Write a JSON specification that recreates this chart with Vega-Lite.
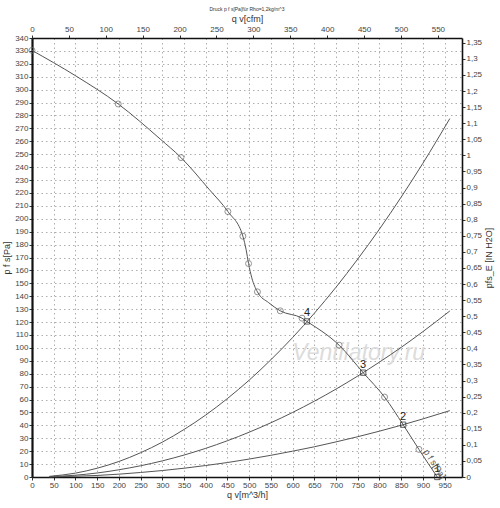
{
  "$schema": "https://vega.github.io/schema/vega-lite/v6.json",
  "width": 430,
  "height": 439,
  "autosize": {"type": "none"},
  "padding": {"left": 32, "top": 38, "right": 38, "bottom": 31},
  "title": {"text": "Druck p f s[Pa]für Rho=1,2kg/m^3", "fontSize": 5, "fontWeight": "normal", "color": "#333", "anchor": "middle", "offset": 2, "font": "Liberation Sans"},
  "config": {
    "locale": {"number": {"decimal": ",", "thousands": ".", "grouping": [3], "currency": ["", ""]}},
    "view": {"stroke": null},
    "axis": {"labelFont": "Liberation Sans", "titleFont": "Liberation Sans", "labelFontSize": 8, "titleFontSize": 9, "titleFontWeight": "normal", "labelColor": "#444", "titleColor": "#333", "domainColor": "#111", "domainWidth": 1.6, "tickColor": "#333", "tickSize": 3, "labelFlush": false, "labelOverlap": false}
  },
  "datasets": {
    "main": [
      {"q": 0, "p": 330.4}, {"q": 100, "p": 310.8}, {"q": 198.5, "p": 288.9}, {"q": 295, "p": 261.8},
      {"q": 343, "p": 247.4}, {"q": 408.5, "p": 222.5}, {"q": 451, "p": 205.6}, {"q": 485.5, "p": 186.5},
      {"q": 493, "p": 176}, {"q": 498.6, "p": 165.3}, {"q": 506, "p": 154.3}, {"q": 519, "p": 143.4},
      {"q": 545, "p": 135}, {"q": 571.6, "p": 128.7}, {"q": 621.7, "p": 123}, {"q": 633, "p": 120.5},
      {"q": 707, "p": 102.1}, {"q": 762.5, "p": 80.8}, {"q": 811.7, "p": 61.9}, {"q": 854.5, "p": 40.5},
      {"q": 890.8, "p": 21.4}, {"q": 933, "p": 0}
    ],
    "circles": [
      {"q": 0, "p": 330.4}, {"q": 198.5, "p": 288.9}, {"q": 343, "p": 247.4}, {"q": 451, "p": 205.6},
      {"q": 485.5, "p": 186.5}, {"q": 498.6, "p": 165.3}, {"q": 519, "p": 143.4}, {"q": 571.6, "p": 128.7},
      {"q": 621.7, "p": 123}, {"q": 707, "p": 102.1}, {"q": 811.7, "p": 61.9}, {"q": 890.8, "p": 21.4}
    ],
    "ops": [
      {"q": 633, "p": 120.5, "label": "4"}, {"q": 762.5, "p": 80.8, "label": "3"},
      {"q": 854.5, "p": 40.5, "label": "2"}, {"q": 933, "p": 0, "label": "1"}
    ],
    "system": [
      {"curve": "A", "q": 40, "p": 0.5}, {"curve": "A", "q": 100, "p": 3}, {"curve": "A", "q": 150, "p": 6.8}, {"curve": "A", "q": 200, "p": 12},
      {"curve": "A", "q": 250, "p": 18.8}, {"curve": "A", "q": 300, "p": 27}, {"curve": "A", "q": 350, "p": 36.8}, {"curve": "A", "q": 400, "p": 48},
      {"curve": "A", "q": 450, "p": 60.8}, {"curve": "A", "q": 500, "p": 75}, {"curve": "A", "q": 550, "p": 90.8}, {"curve": "A", "q": 600, "p": 108},
      {"curve": "A", "q": 650, "p": 126.8}, {"curve": "A", "q": 700, "p": 147}, {"curve": "A", "q": 750, "p": 168.8}, {"curve": "A", "q": 800, "p": 192},
      {"curve": "A", "q": 850, "p": 216.8}, {"curve": "A", "q": 900, "p": 243}, {"curve": "A", "q": 962, "p": 277.6},
      {"curve": "B", "q": 40, "p": 0.2}, {"curve": "B", "q": 100, "p": 1.4}, {"curve": "B", "q": 150, "p": 3.1}, {"curve": "B", "q": 200, "p": 5.6},
      {"curve": "B", "q": 250, "p": 8.7}, {"curve": "B", "q": 300, "p": 12.5}, {"curve": "B", "q": 350, "p": 17}, {"curve": "B", "q": 400, "p": 22.2},
      {"curve": "B", "q": 450, "p": 28.1}, {"curve": "B", "q": 500, "p": 34.7}, {"curve": "B", "q": 550, "p": 42}, {"curve": "B", "q": 600, "p": 50},
      {"curve": "B", "q": 650, "p": 58.7}, {"curve": "B", "q": 700, "p": 68.1}, {"curve": "B", "q": 750, "p": 78.2}, {"curve": "B", "q": 800, "p": 89},
      {"curve": "B", "q": 850, "p": 100.4}, {"curve": "B", "q": 900, "p": 112.6}, {"curve": "B", "q": 962, "p": 128.6},
      {"curve": "C", "q": 40, "p": 0.1}, {"curve": "C", "q": 100, "p": 0.6}, {"curve": "C", "q": 150, "p": 1.2}, {"curve": "C", "q": 200, "p": 2.2},
      {"curve": "C", "q": 250, "p": 3.5}, {"curve": "C", "q": 300, "p": 5}, {"curve": "C", "q": 350, "p": 6.8}, {"curve": "C", "q": 400, "p": 8.9},
      {"curve": "C", "q": 450, "p": 11.2}, {"curve": "C", "q": 500, "p": 13.9}, {"curve": "C", "q": 550, "p": 16.8}, {"curve": "C", "q": 600, "p": 20},
      {"curve": "C", "q": 650, "p": 23.4}, {"curve": "C", "q": 700, "p": 27.2}, {"curve": "C", "q": 750, "p": 31.2}, {"curve": "C", "q": 800, "p": 35.5},
      {"curve": "C", "q": 850, "p": 40.1}, {"curve": "C", "q": 900, "p": 45}, {"curve": "C", "q": 962, "p": 51.4}
    ],
    "texts": [
      {"q": 752, "p": 96, "label": "Ventilatory.ru"}
    ],
    "curvelabel": [
      {"q": 927, "p": 10, "label": "p f s[Pa]"}
    ]
  },
  "layer": [
    {
      "encoding": {
        "x": {"field": "q", "type": "quantitative", "scale": {"domain": [0, 990], "nice": false, "zero": false},
              "axis": {"orient": "bottom", "title": "q v[m^3/h]", "values": [0,50,100,150,200,250,300,350,400,450,500,550,600,650,700,750,800,850,900,950],
                       "grid": true, "gridDash": [1.5, 3], "gridColor": "#999", "gridWidth": 0.8, "labelPadding": 1, "titlePadding": 1}},
        "y": {"field": "p", "type": "quantitative", "scale": {"domain": [0, 340], "nice": false, "zero": false},
              "axis": {"orient": "left", "title": "p f s[Pa]", "values": [0,10,20,30,40,50,60,70,80,90,100,110,120,130,140,150,160,170,180,190,200,210,220,230,240,250,260,270,280,290,300,310,320,330,340],
                       "format": "d", "grid": true, "gridDash": [1.5, 3], "gridColor": "#999", "gridWidth": 0.8, "labelPadding": 1, "titlePadding": 3, "domainWidth": 2.2}}
      },
      "layer": [
        {"data": {"name": "texts"}, "mark": {"type": "text", "font": "Liberation Sans", "fontSize": 23, "fontStyle": "italic", "color": "#dcdcdc", "align": "center", "baseline": "middle"}, "encoding": {"text": {"field": "label"}}},
        {"data": {"name": "system"}, "mark": {"type": "line", "color": "#555", "strokeWidth": 1, "interpolate": "monotone"}, "encoding": {"detail": {"field": "curve"}}},
        {"data": {"name": "main"}, "mark": {"type": "line", "color": "#555", "strokeWidth": 1, "interpolate": "monotone"}, "encoding": {}},
        {"data": {"name": "circles"}, "mark": {"type": "point", "shape": "circle", "filled": false, "color": "#666", "size": 36, "strokeWidth": 1}, "encoding": {}},
        {"data": {"name": "ops"}, "mark": {"type": "point", "shape": "square", "filled": false, "color": "#222", "size": 28, "strokeWidth": 1}, "encoding": {}},
        {"data": {"name": "ops"}, "mark": {"type": "text", "font": "Liberation Sans", "fontSize": 11, "color": "#222", "dy": -8, "align": "center", "baseline": "middle"}, "encoding": {"text": {"field": "label"}}},
        {"data": {"name": "curvelabel"}, "mark": {"type": "text", "font": "Liberation Sans", "fontSize": 9, "color": "#555", "angle": 57, "align": "center", "baseline": "middle"}, "encoding": {"text": {"field": "label"}}}
      ]
    },
    {
      "data": {"values": [{"cfm": 0, "inh2o": 0}]},
      "mark": {"type": "point", "opacity": 0},
      "encoding": {
        "x": {"field": "cfm", "type": "quantitative", "scale": {"domain": [0, 582.7], "nice": false, "zero": false},
              "axis": {"orient": "top", "title": "q v[cfm]", "values": [0,50,100,150,200,250,300,350,400,450,500,550], "grid": false, "labelPadding": 2, "titlePadding": 2}},
        "y": {"field": "inh2o", "type": "quantitative", "scale": {"domain": [0, 1.365], "nice": false, "zero": false},
              "axis": {"orient": "right", "title": "pfs_E [IN H2O]", "titleAngle": 270, "titleBaseline": "bottom", "format": ".2~f", "grid": false, "labelPadding": 1, "titlePadding": 12,
                       "values": [0,0.05,0.1,0.15,0.2,0.25,0.3,0.35,0.4,0.45,0.5,0.55,0.6,0.65,0.7,0.75,0.8,0.85,0.9,0.95,1,1.05,1.1,1.15,1.2,1.25,1.3,1.35]}}
      }
    }
  ],
  "resolve": {"scale": {"x": "independent", "y": "independent"}}
}
